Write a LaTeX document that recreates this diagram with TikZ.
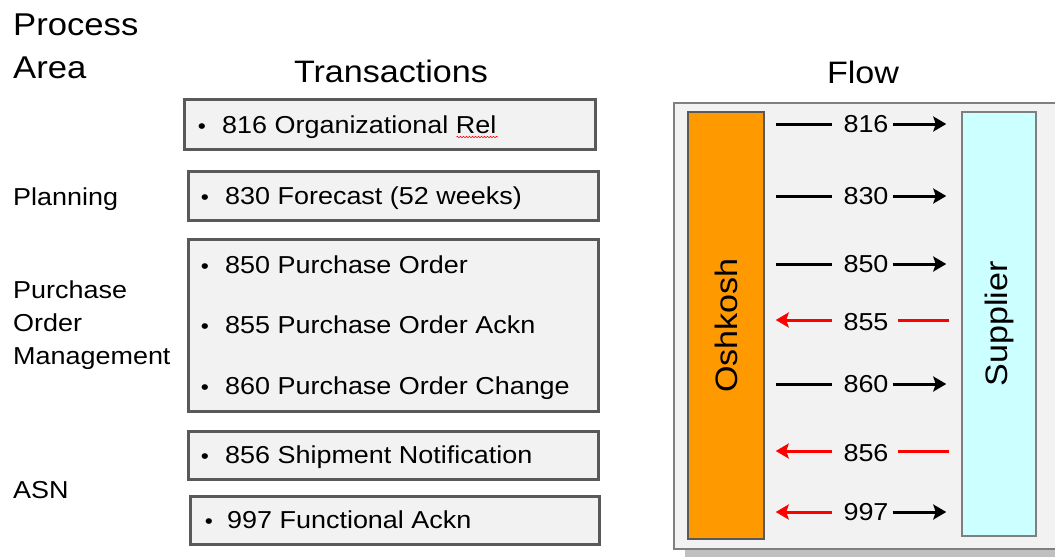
\documentclass[tikz,border=0pt]{standalone}
\usepackage{fontspec}
\setmainfont{Liberation Sans}[FakeStretch=1.1]
\usetikzlibrary{arrows.meta,decorations.pathmorphing}
\definecolor{boxfill}{HTML}{F2F2F2}
\definecolor{boxline}{HTML}{595959}
\definecolor{panelline}{HTML}{7F7F7F}
\definecolor{oshfill}{HTML}{FF9900}
\definecolor{supfill}{HTML}{CCFFFF}
\definecolor{shadowc}{HTML}{C0C0C0}
\definecolor{redc}{HTML}{FF0000}
\begin{document}
\begin{tikzpicture}[x=1pt,y=-1pt,
  txbox/.style={draw=boxline, fill=boxfill, line width=2.5pt, anchor=north west, inner sep=0pt},
  headtxt/.style={font=\fontsize{31}{36}\selectfont, inner sep=0pt, anchor=base},
  bigareatxt/.style={font=\fontsize{31.5}{36}\selectfont, inner sep=0pt, anchor=base west},
  areatxt/.style={font=\fontsize{24.5}{33}\selectfont, inner sep=0pt, anchor=base west},
  itemtxt/.style={font=\fontsize{24.5}{30}\selectfont, inner sep=0pt, anchor=base west},
  bul/.style={font=\fontsize{21}{24}\selectfont, inner sep=0pt, anchor=base},
  numtxt/.style={font=\fontsize{24.5}{30}\selectfont, inner sep=0pt, anchor=center},
  sidetxt/.style={font=\fontsize{31}{36}\selectfont, inner sep=0pt, rotate=90},
  flowline/.style={line width=3pt},
  tipr/.style={-{Stealth[length=13pt,width=15pt,inset=2.5pt]}},
  tipl/.style={{Stealth[length=13pt,width=15pt,inset=2.5pt]}-}
]
\useasboundingbox (0,0) rectangle (1055,558);
\clip (0,0) rectangle (1055,558);

% headings
\node[bigareatxt] (pa1) at (13,35) {Process};
\node[bigareatxt] (pa2) at (13,78) {Area};
\node[headtxt] (ttr) at (391,82) {Transactions};
\node[headtxt] (tfl) at (863,83) {Flow};

% process area labels
\node[areatxt] (lpl) at (13,205) {Planning};
\node[areatxt] (lpo1) at (13,298) {Purchase};
\node[areatxt] (lpo2) at (13,331) {Order};
\node[areatxt] (lpo3) at (13,364) {Management};
\node[areatxt] (lasn) at (13,498) {ASN};

% transaction boxes
\node[txbox, minimum width=411, minimum height=50] (b816) at (183,98) {};
\node[txbox, minimum width=410, minimum height=49] (b830) at (187,170) {};
\node[txbox, minimum width=410, minimum height=172] (bpo) at (187,238) {};
\node[txbox, minimum width=410, minimum height=48] (b856) at (187,430) {};
\node[txbox, minimum width=409, minimum height=48] (b997) at (189,495) {};

% items
\node[bul] (u816) at (202,133) {•};
\node[itemtxt] (i816) at (222,133) {816 Organizational Rel};
\node[bul] (u830) at (205,204) {•};
\node[itemtxt] (i830) at (225,204) {830 Forecast (52 weeks)};
\node[bul] (u850) at (205,273) {•};
\node[itemtxt] (i850) at (225,273) {850 Purchase Order};
\node[bul] (u855) at (205,333) {•};
\node[itemtxt] (i855) at (225,333) {855 Purchase Order Ackn};
\node[bul] (u860) at (205,394) {•};
\node[itemtxt] (i860) at (225,394) {860 Purchase Order Change};
\node[bul] (u856) at (205,463) {•};
\node[itemtxt] (i856) at (225,463) {856 Shipment Notification};
\node[bul] (u997) at (209,528) {•};
\node[itemtxt] (i997) at (227,528) {997 Functional Ackn};
\draw[redc, line width=0.6pt, decorate, decoration={snake, amplitude=0.8pt, segment length=3pt}]
  ([xshift=-40pt,yshift=-4pt]i816.base east) -- ([xshift=1pt,yshift=-4pt]i816.base east);

% flow panel
\fill[shadowc] (685,548) rectangle (1070,557);
\node[draw=panelline, fill=boxfill, line width=1.5pt, anchor=north west, inner sep=0pt,
      minimum width=420, minimum height=446] (panel) at (673,102) {};
\node[draw=boxline, fill=oshfill, line width=1.5pt, inner sep=0pt,
      minimum width=76, minimum height=427] (osh) at (726,325.5) {};
\node[sidetxt] (osht) at (osh.center) {Oshkosh};
\node[draw=panelline, fill=supfill, line width=1.5pt, inner sep=0pt,
      minimum width=74, minimum height=424] (sup) at (999,324) {};
\node[sidetxt] (supt) at (sup.center) {Supplier};

% flow labels
\foreach \n/\ly in {816/124,830/196,850/264,855/322,860/384,856/453,997/512}
  \node[numtxt] (n\n) at (866,\ly) {\n};

% Oshkosh -> Supplier
\foreach \n in {816,830,850,860}{
  \draw[flowline] ([xshift=11pt]osh.east |- n\n.center) -- ([xshift=-11pt]n\n.west);
  \draw[flowline, tipr] ([xshift=4pt]n\n.east) -- ([xshift=-15pt]sup.west |- n\n.center);
}
% Supplier -> Oshkosh
\foreach \n in {855,856}{
  \draw[flowline, redc, tipl] ([xshift=11pt,yshift=2pt]osh.east |- n\n.center) -- ([xshift=-11pt,yshift=2pt]n\n.west);
  \draw[flowline, redc] ([xshift=9pt,yshift=2pt]n\n.east) -- ([xshift=-12pt,yshift=2pt]sup.west |- n\n.center);
}
% 997 both ways
\draw[flowline, redc, tipl] ([xshift=11pt]osh.east |- n997.center) -- ([xshift=-11pt]n997.west);
\draw[flowline, tipr] ([xshift=4pt]n997.east) -- ([xshift=-15pt]sup.west |- n997.center);
\end{tikzpicture}
\end{document}
